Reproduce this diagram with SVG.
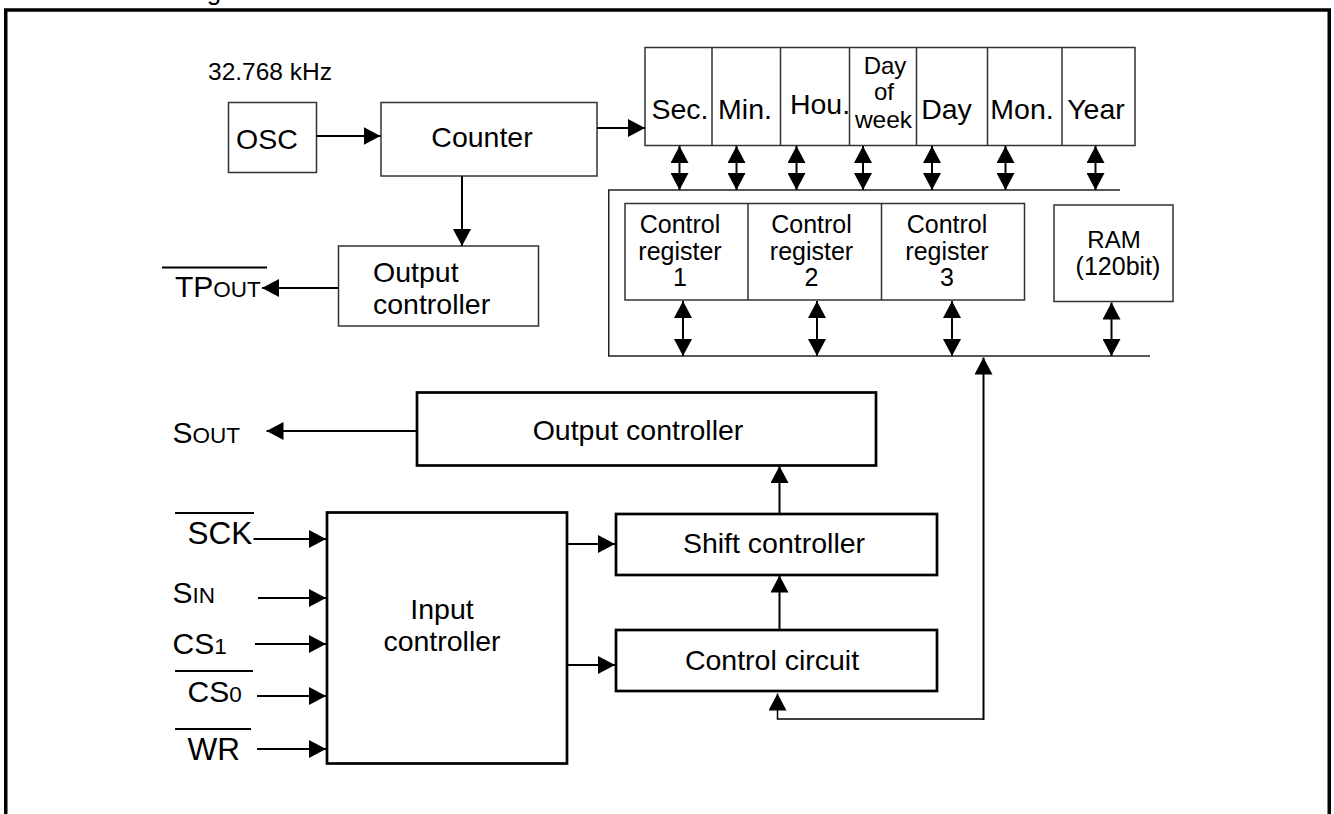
<svg xmlns="http://www.w3.org/2000/svg" width="1334" height="814" viewBox="0 0 1334 814">
<defs>
<marker id="ah" viewBox="0 0 17 18" refX="17" refY="9" markerWidth="17" markerHeight="18" markerUnits="userSpaceOnUse" orient="auto-start-reverse"><path d="M0,0 L17,9 L0,18 z" fill="#000"/></marker>
</defs>
<style>
text{font-family:"Liberation Sans",Arial,sans-serif;fill:#000}
.thin{fill:#fff;stroke:#333;stroke-width:1.5}
.thick{fill:#fff;stroke:#000;stroke-width:2.7}
.c{stroke:#000;stroke-width:2;fill:none}
.bus{stroke:#222;stroke-width:1.5;fill:none}
.ov{stroke:#000;stroke-width:2}
.l28{font-size:28.5px}
.l24{font-size:25px}
.p{font-size:30px}
.s{font-size:22.5px}
.m{text-anchor:middle}
</style>
<text x="97" y="-0.5" style="font-size:26px">Block Diagram</text>
<rect x="5.75" y="10" width="1323.5" height="900" fill="none" stroke="#000" stroke-width="3.5"/>
<text x="208" y="80" style="font-size:24.5px">32.768 kHz</text>

<g id="osc"><rect class="thin" x="228.5" y="102.5" width="88" height="70"/><text class="l28 m" x="267" y="149">OSC</text></g>
<g id="counter"><rect class="thin" x="381" y="102.5" width="216" height="73.5"/><text class="l28 m" x="482" y="147">Counter</text></g>
<g id="output-controller-tp"><rect class="thin" x="338.5" y="246" width="200" height="80"/><text class="l28" x="373" y="282">Output</text><text class="l28" x="373" y="313.5">controller</text></g>

<g id="time-registers">
<rect class="thin" x="645" y="47.5" width="490" height="98"/>
<path class="thin" d="M712,47.5V145.5M780.5,47.5V145.5M849.5,47.5V145.5M916.5,47.5V145.5M987.5,47.5V145.5M1062,47.5V145.5"/>
<text class="l28 m" x="680" y="118.5">Sec.</text>
<text class="l28 m" x="745" y="118.5">Min.</text>
<text class="l28 m" x="820" y="113.5">Hou.</text>
<text class="m" style="font-size:24px" x="885" y="73.5">Day</text>
<text class="m" style="font-size:24px" x="884" y="99.5">of</text>
<text class="m" style="font-size:24.5px" x="883.5" y="127.5">week</text>
<text class="l28 m" x="946.5" y="118.5">Day</text>
<text class="l28 m" x="1022" y="118.5">Mon.</text>
<text class="l28 m" x="1096" y="118.5">Year</text>
</g>

<g id="control-registers">
<rect class="thin" x="625" y="203.5" width="399.5" height="96.5"/>
<path class="thin" d="M748,203.5V300M881.5,203.5V300"/>
<text class="l24 m" x="680" y="233">Control</text><text class="l24 m" x="680" y="260">register</text><text class="l24 m" x="680" y="286">1</text>
<text class="l24 m" x="811.5" y="233">Control</text><text class="l24 m" x="811.5" y="260">register</text><text class="l24 m" x="811.5" y="286">2</text>
<text class="l24 m" x="947" y="233">Control</text><text class="l24 m" x="947" y="260">register</text><text class="l24 m" x="947" y="286">3</text>
</g>

<g id="ram"><rect class="thin" x="1054" y="205" width="119" height="96.5"/><text class="m" style="font-size:24px" x="1114" y="248">RAM</text><text class="m" style="font-size:25px" x="1118" y="275">(120bit)</text></g>

<g id="output-controller-s"><rect class="thick" x="417" y="392.5" width="459" height="73"/><text class="l28 m" x="638" y="440">Output controller</text></g>
<g id="input-controller"><rect class="thick" x="327" y="512.5" width="240" height="251"/><text class="l28 m" x="442" y="618.5">Input</text><text class="l28 m" x="442" y="651">controller</text></g>
<g id="shift-controller"><rect class="thick" x="616" y="514" width="321" height="61"/><text class="l28 m" x="774" y="552.5">Shift controller</text></g>
<g id="control-circuit"><rect class="thick" x="616" y="630" width="321" height="61"/><text class="l28 m" x="772" y="670">Control circuit</text></g>

<g id="pins">
<text class="p" x="175" y="297">TP<tspan class="s">OUT</tspan></text><line class="ov" x1="162" y1="267.5" x2="267" y2="267.5"/>
<text class="p" x="172.5" y="443">S<tspan class="s">OUT</tspan></text>
<text class="p" x="187.5" y="543.5" style="font-size:31.5px">SCK</text><line class="ov" x1="175" y1="513" x2="254" y2="513"/>
<text class="p" x="172.5" y="603">S<tspan class="s">IN</tspan></text>
<text class="p" x="172.5" y="653.5">CS<tspan class="s">1</tspan></text>
<text class="p" x="187.5" y="702">CS<tspan class="s">0</tspan></text><line class="ov" x1="175" y1="671" x2="253" y2="671"/>
<text class="p" x="187.5" y="760" style="font-size:31.5px">WR</text><line class="ov" x1="175" y1="729" x2="251" y2="729"/>
</g>

<g id="connectors">
<path class="bus" d="M1120,190H608.75V356H1150"/>
<line class="c" x1="316.5" y1="136" x2="380.5" y2="136" marker-end="url(#ah)"/>
<line class="c" x1="597" y1="128" x2="645" y2="128" marker-end="url(#ah)"/>
<line class="c" x1="462" y1="176" x2="462" y2="246" marker-end="url(#ah)"/>
<line class="c" x1="338" y1="288" x2="262" y2="288" marker-end="url(#ah)"/>
<line class="c" x1="679.5" y1="146" x2="679.5" y2="190" marker-start="url(#ah)" marker-end="url(#ah)"/>
<line class="c" x1="736.5" y1="146" x2="736.5" y2="190" marker-start="url(#ah)" marker-end="url(#ah)"/>
<line class="c" x1="796.5" y1="146" x2="796.5" y2="190" marker-start="url(#ah)" marker-end="url(#ah)"/>
<line class="c" x1="863" y1="146" x2="863" y2="190" marker-start="url(#ah)" marker-end="url(#ah)"/>
<line class="c" x1="932" y1="146" x2="932" y2="190" marker-start="url(#ah)" marker-end="url(#ah)"/>
<line class="c" x1="1005.5" y1="146" x2="1005.5" y2="190" marker-start="url(#ah)" marker-end="url(#ah)"/>
<line class="c" x1="1095.5" y1="146" x2="1095.5" y2="190" marker-start="url(#ah)" marker-end="url(#ah)"/>
<line class="c" x1="683" y1="301" x2="683" y2="356" marker-start="url(#ah)" marker-end="url(#ah)"/>
<line class="c" x1="817" y1="301" x2="817" y2="356" marker-start="url(#ah)" marker-end="url(#ah)"/>
<line class="c" x1="952" y1="301" x2="952" y2="356" marker-start="url(#ah)" marker-end="url(#ah)"/>
<line class="c" x1="1111.5" y1="302.5" x2="1111.5" y2="356" marker-start="url(#ah)" marker-end="url(#ah)"/>
<line class="c" x1="983.5" y1="720" x2="983.5" y2="357.5" marker-end="url(#ah)"/>
<path class="c" style="stroke-width:1.5" d="M983.5,719H777.5V693.5" marker-end="url(#ah)"/>
<line class="c" x1="416" y1="431" x2="266.5" y2="431" marker-end="url(#ah)"/>
<line class="c" x1="779.5" y1="514" x2="779.5" y2="466" marker-end="url(#ah)"/>
<line class="c" x1="779.5" y1="630" x2="779.5" y2="575.5" marker-end="url(#ah)"/>
<line class="c" x1="567" y1="544" x2="615" y2="544" marker-end="url(#ah)"/>
<line class="c" x1="567" y1="665" x2="615" y2="665" marker-end="url(#ah)"/>
<line class="c" x1="253.5" y1="539" x2="326" y2="539" marker-end="url(#ah)"/>
<line class="c" x1="258" y1="598" x2="326" y2="598" marker-end="url(#ah)"/>
<line class="c" x1="255" y1="644" x2="326" y2="644" marker-end="url(#ah)"/>
<line class="c" x1="257" y1="696" x2="326" y2="696" marker-end="url(#ah)"/>
<line class="c" x1="257" y1="749" x2="326" y2="749" marker-end="url(#ah)"/>
</g>
</svg>
